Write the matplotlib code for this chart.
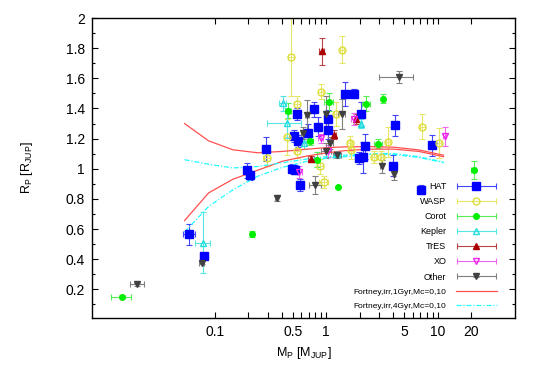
import matplotlib
matplotlib.use("Agg")
import matplotlib.pyplot as plt
from matplotlib.ticker import MultipleLocator, NullLocator
from matplotlib.container import ErrorbarContainer
from matplotlib.legend_handler import HandlerErrorbar

plt.rcParams['font.family'] = ['Liberation Sans', 'DejaVu Sans']
plt.rcParams['mathtext.fontset'] = 'custom'
plt.rcParams['mathtext.rm'] = 'Liberation Sans'
plt.rcParams['mathtext.it'] = 'Liberation Sans:italic'

# planet data: mass [M_jup], radius [R_jup] and errors
hat_m = [0.059, 0.080, 0.193, 0.207, 0.286, 0.49, 0.526, 0.583, 0.546, 0.77, 1.04, 1.04, 0.515,
         0.56, 0.68, 0.84, 1.48, 1.77, 2.06, 4.18, 2.22, 1.97, 2.14, 3.99, 8.9, 7.1]
hat_r = [0.565, 0.42, 0.99, 0.956, 1.13, 1.0, 0.993, 0.894, 1.364, 1.395, 1.33, 1.258, 1.22,
         1.185, 1.24, 1.28, 1.497, 1.497, 1.364, 1.287, 1.148, 1.07, 1.075, 1.02, 1.155, 0.86]
hat_dm = [0.007, 0.006, 0.010, 0.015, 0.02, 0.02, 0.02, 0.03, 0.03, 0.05, 0.04, 0.04, 0.02,
          0.03, 0.04, 0.04, 0.10, 0.05, 0.10, 0.20, 0.10, 0.10, 0.10, 0.20, 0.50, 0.20]
hat_dr = [0.07, 0.02, 0.05, 0.03, 0.08, 0.03, 0.03, 0.04, 0.04, 0.05, 0.06, 0.06, 0.04,
          0.04, 0.06, 0.06, 0.08, 0.03, 0.08, 0.07, 0.08, 0.04, 0.10, 0.07, 0.07, 0.03]

wasp_m = [0.486, 1.39, 0.89, 0.546, 1.23, 0.447, 0.55, 0.292, 0.95, 0.88, 1.62, 1.67, 3.57,
          2.67, 3.12, 7.3, 10.2]
wasp_r = [1.74, 1.79, 1.51, 1.43, 1.364, 1.21, 1.12, 1.07, 0.912, 1.015, 1.17, 1.126, 1.177,
          1.075, 1.075, 1.28, 1.17]
wasp_dm = [0.03, 0.05, 0.05, 0.03, 0.06, 0.02, 0.03, 0.02, 0.08, 0.05, 0.08, 0.08, 0.15,
           0.10, 0.10, 0.40, 0.50]
wasp_dr = [0.26, 0.09, 0.05, 0.05, 0.08, 0.12, 0.05, 0.05, 0.04, 0.05, 0.05, 0.06, 0.10,
           0.04, 0.04, 0.08, 0.10]

corot_m = [0.0148, 0.215, 0.457, 1.06, 0.718, 0.83, 1.27, 2.28, 3.24, 2.92, 21.0]
corot_r = [0.15, 0.57, 1.386, 1.445, 1.185, 1.06, 0.88, 1.43, 1.464, 1.166, 0.99]
corot_dm = [0.003, 0.01, 0.03, 0.10, 0.05, 0.05, 0.0, 0.20, 0.10, 0.25, 1.0]
corot_dr = [0.01, 0.02, 0.05, 0.06, 0.03, 0.05, 0.0, 0.05, 0.03, 0.03, 0.06]

kep_m = [0.078, 0.41, 0.447, 0.63, 1.25, 2.05]
kep_r = [0.51, 1.435, 1.306, 1.17, 1.10, 1.30]
kep_dm = [0.012, 0.03, 0.15, 0.03, 0.07, 0.05]
kep_dr = [0.20, 0.05, 0.10, 0.04, 0.02, 0.03]

tres_m = [0.91, 1.17, 0.73, 1.86]
tres_r = [1.78, 1.225, 1.066, 1.33]
tres_dm = [0.04, 0.05, 0.05, 0.05]
tres_dr = [0.09, 0.03, 0.02, 0.03]

xo_m = [0.89, 1.04, 0.575, 1.77, 11.6]
xo_r = [1.203, 1.115, 0.976, 1.33, 1.214]
xo_dm = [0.05, 0.06, 0.03, 0.10, 0.40]
xo_dr = [0.03, 0.04, 0.04, 0.04, 0.06]

oth_m = [0.0202, 0.076, 0.36, 0.796, 0.67, 1.38, 0.99, 1.087, 1.0, 1.25, 3.15, 4.04, 4.5, 0.615]
oth_r = [0.235, 0.375, 0.806, 0.89, 1.357, 1.364, 1.36, 1.17, 1.12, 1.09, 1.015, 0.967, 1.607, 1.24]
oth_dm = [0.003, 0.004, 0.01, 0.10, 0.03, 0.10, 0.03, 0.06, 0.10, 0.10, 0.10, 0.10, 1.50, 0.02]
oth_dr = [0.01, 0.01, 0.02, 0.06, 0.10, 0.10, 0.12, 0.04, 0.05, 0.02, 0.04, 0.04, 0.04, 0.04]

# Fortney et al. model tracks (core mass 0 and 10 M_earth)
fort_m = [0.0535, 0.088, 0.145, 0.242, 0.406, 0.676, 1.0, 1.46, 2.43, 4.06, 6.78, 11.3]
f1_c0 = [1.30, 1.185, 1.126, 1.106, 1.115, 1.13, 1.14, 1.145, 1.147, 1.143, 1.125, 1.09]
f1_c10 = [0.656, 0.84, 0.93, 0.99, 1.05, 1.085, 1.105, 1.12, 1.13, 1.13, 1.115, 1.08]
f4_c0 = [1.06, 1.03, 1.005, 1.015, 1.04, 1.065, 1.08, 1.09, 1.10, 1.10, 1.08, 1.045]
f4_c10 = [0.58, 0.75, 0.86, 0.95, 1.01, 1.05, 1.07, 1.08, 1.095, 1.095, 1.075, 1.04]

fig = plt.figure(figsize=(5.45, 3.82), dpi=100)
ax = fig.add_axes([92 / 545, 1 - 318 / 382, 423 / 545, 300 / 382])
ax.set_xscale('log')

series = [
    ("HAT", hat_m, hat_r, hat_dm, hat_dr, 's', '#0000ff', '#0000ff', '#4444ff', 5.5),
    ("WASP", wasp_m, wasp_r, wasp_dm, wasp_dr, 'o', '#dede40', 'none', '#e6e66a', 5),
    ("Corot", corot_m, corot_r, corot_dm, corot_dr, 'o', '#00ee00', '#00ee00', '#55ee55', 4),
    ("Kepler", kep_m, kep_r, kep_dm, kep_dr, '^', '#22dddd', 'none', '#55e5e5', 4),
    ("TrES", tres_m, tres_r, tres_dm, tres_dr, '^', '#aa0000', '#aa0000', '#bb4444', 4),
    ("XO", xo_m, xo_r, xo_dm, xo_dr, 'v', '#ee22ee', 'none', '#ee66ee', 4),
    ("Other", oth_m, oth_r, oth_dm, oth_dr, 'v', '#404040', '#404040', '#808080', 4),
]
handles = []
labels = []
for name, m, r, dm, dr, mk, col, fc, ecol, ms in series:
    h = ax.errorbar(m, r, xerr=dm, yerr=dr, fmt=mk, color=col, mec=col, mfc=fc, ms=ms,
                    ecolor=ecol, elinewidth=0.8, capsize=2, capthick=0.8)
    handles.append(h)
    labels.append(name)

h1, = ax.plot(fort_m, f1_c0, color='#ff5050', lw=0.9)
ax.plot(fort_m, f1_c10, color='#ff5050', lw=0.9)
h4, = ax.plot(fort_m, f4_c0, color='#22ffff', lw=0.9, dashes=(4, 1.5, 1, 1.5))
ax.plot(fort_m, f4_c10, color='#22ffff', lw=0.9, dashes=(4, 1.5, 1, 1.5))
handles += [h1, h4]
labels += ['Fortney,irr,1Gyr,Mc=0,10', 'Fortney,irr,4Gyr,Mc=0,10']

ax.set_xlim(0.0079, 49.5)
ax.set_ylim(0.01, 2.0)

xt = [0.1, 0.2, 0.3, 0.4, 0.5, 0.6, 0.7, 0.8, 0.9, 1, 2, 3, 4, 5, 6, 7, 8, 9, 10, 20]
xl = ['0.1', '', '', '', '0.5', '', '', '', '', '1', '', '', '', '5', '', '', '', '', '10', '20']
ax.set_xticks(xt)
ax.set_xticklabels(xl)
ax.xaxis.set_minor_locator(NullLocator())
yt = [0.2, 0.4, 0.6, 0.8, 1.0, 1.2, 1.4, 1.6, 1.8, 2.0]
ax.set_yticks(yt)
ax.set_yticklabels(['0.2', '0.4', '0.6', '0.8', '1', '1.2', '1.4', '1.6', '1.8', '2'])
ax.yaxis.set_minor_locator(MultipleLocator(0.1))
ax.tick_params(which='both', direction='in', top=True, right=True, width=0.8,
               labelsize=10, pad=5)
ax.tick_params(which='major', length=4)
ax.tick_params(which='minor', length=2.5)
for s in ax.spines.values():
    s.set_linewidth(1.0)

ax.set_xlabel(r'M$_\mathrm{P}$ [M$_\mathrm{JUP}$]', fontsize=9)
ax.set_ylabel(r'R$_\mathrm{P}$ [R$_\mathrm{JUP}$]', fontsize=9)
ax.xaxis.set_label_coords(0.5, -0.09)
ax.yaxis.set_label_coords(-0.135, 0.5)

leg = ax.legend(handles, labels, loc='lower right', bbox_to_anchor=(0.957, 0.025),
                frameon=False, markerfirst=False, fontsize=6.5, handlelength=4.5,
                handletextpad=1.1, labelspacing=0.68, borderpad=0, borderaxespad=0,
                handler_map={ErrorbarContainer: HandlerErrorbar(xerr_size=2.2, yerr_size=0.01)})
for t in leg.get_texts()[7:]:
    t.set_fontsize(6)

fig.savefig("out.png", dpi=100)
